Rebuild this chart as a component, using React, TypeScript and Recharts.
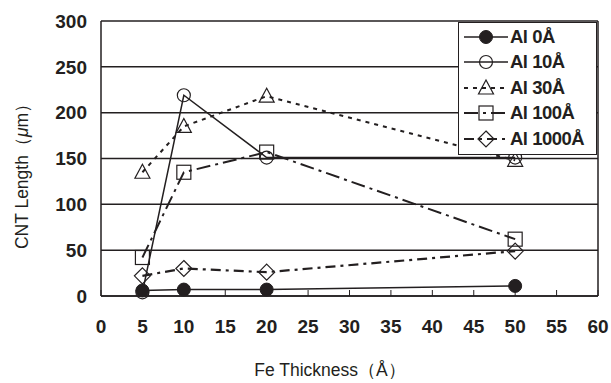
import {
  LineChart,
  Line,
  XAxis,
  YAxis,
  CartesianGrid,
  ReferenceLine,
  Label,
} from 'recharts'

const feThickness = [5, 10, 20, 50]
const al0 = [6, 7, 7, 11]
const al10 = [4, 219, 151, 151]
const al30 = [135, 185, 218, 148]
const al100 = [42, 135, 157, 62]
const al1000 = [22, 30, 26, 49]

const xTicks = [0, 5, 10, 15, 20, 25, 30, 35, 40, 45, 50, 55, 60]
const yTicks = [0, 50, 100, 150, 200, 250, 300]

const INK = '#231f20'
const FONT = '"Liberation Sans", Arial, sans-serif'

const chartData = feThickness.map((fe, i) => ({
  fe,
  al0: al0[i],
  al10: al10[i],
  al30: al30[i],
  al100: al100[i],
  al1000: al1000[i],
}))

type Shape = 'filled' | 'circle' | 'triangle' | 'square' | 'diamond'

function markerPath(shape: Shape, cx: number, cy: number, key?: string) {
  switch (shape) {
    case 'filled':
      return <circle key={key} cx={cx} cy={cy} r={6.5} fill={INK} stroke={INK} />
    case 'circle':
      return <circle key={key} cx={cx} cy={cy} r={6.5} fill="none" stroke={INK} strokeWidth={1.2} />
    case 'triangle':
      return (
        <polygon
          key={key}
          points={`${cx},${cy - 8} ${cx - 7.5},${cy + 6} ${cx + 7.5},${cy + 6}`}
          fill="none"
          stroke={INK}
          strokeWidth={1.2}
        />
      )
    case 'square':
      return (
        <rect key={key} x={cx - 7} y={cy - 7} width={14} height={14} fill="none" stroke={INK} strokeWidth={1.2} />
      )
    case 'diamond':
      return (
        <polygon
          key={key}
          points={`${cx},${cy - 8} ${cx + 8},${cy} ${cx},${cy + 8} ${cx - 8},${cy}`}
          fill="none"
          stroke={INK}
          strokeWidth={1.2}
        />
      )
  }
}

const dot = (shape: Shape) => (props: any) =>
  markerPath(shape, props.cx, props.cy, `${shape}-${props.index}`)

const SERIES = [
  { key: 'al0', name: 'Al 0Å', shape: 'filled' as Shape, dash: undefined, width: 1.5 },
  { key: 'al10', name: 'Al 10Å', shape: 'circle' as Shape, dash: undefined, width: 1.5 },
  { key: 'al30', name: 'Al 30Å', shape: 'triangle' as Shape, dash: '4 5', width: 2 },
  { key: 'al100', name: 'Al 100Å', shape: 'square' as Shape, dash: '14 5 3 5', width: 2 },
  { key: 'al1000', name: 'Al 1000Å', shape: 'diamond' as Shape, dash: '10 5 3 5', width: 2.2 },
]

// legend sits over the plot, lines pass behind it
function LegendBox() {
  return (
    <div
      style={{
        position: 'absolute',
        left: 458,
        top: 22,
        border: `1.5px solid ${INK}`,
        background: '#fff',
        width: 139,
        padding: '1px 0 2px 0',
        boxSizing: 'border-box',
      }}
    >
      {SERIES.map((s) => (
        <div key={s.key} style={{ display: 'flex', alignItems: 'center', height: 25.5 }}>
          <svg width={48} height={20} style={{ marginLeft: 3 }}>
            <line
              x1={2}
              y1={10}
              x2={46}
              y2={10}
              stroke={INK}
              strokeWidth={s.width}
              strokeDasharray={s.dash}
            />
            {markerPath(s.shape, 24, 10)}
          </svg>
          <span
            style={{
              fontFamily: FONT,
              fontWeight: 'bold',
              fontSize: 18.5,
              color: INK,
              letterSpacing: -0.5,
            }}
          >
            {s.name}
          </span>
        </div>
      ))}
    </div>
  )
}

export default function App() {
  return (
    <div style={{ position: 'absolute', left: 0, top: 0, width: 611, height: 383, background: '#fff' }}>
      <LineChart
        width={611}
        height={383}
        data={chartData}
        margin={{ top: 21, right: 13, bottom: 0, left: 0 }}
      >
        <CartesianGrid horizontal vertical={false} stroke={INK} strokeWidth={1.5} />
        <XAxis
          dataKey="fe"
          type="number"
          domain={[0, 60]}
          ticks={xTicks}
          height={87}
          axisLine={{ stroke: INK, strokeWidth: 1.5 }}
          tickLine={{ stroke: INK, strokeWidth: 1 }}
          tickSize={-6}
          tickMargin={30}
          tick={{ fill: INK, fontFamily: FONT, fontWeight: 'bold', fontSize: 19 }}
        >
          <Label
            content={() => (
              <text
                x={330}
                y={370}
                textAnchor="middle"
                dominantBaseline="central"
                fill={INK}
                fontFamily={FONT}
                fontSize={17.5}
              >
                Fe Thickness（Å）
              </text>
            )}
          />
        </XAxis>
        <YAxis
          type="number"
          domain={[0, 300]}
          ticks={yTicks}
          width={101}
          axisLine={{ stroke: INK, strokeWidth: 1.5 }}
          tickLine={false}
          tickSize={0}
          tickMargin={14}
          tick={{ fill: INK, fontFamily: FONT, fontWeight: 'bold', fontSize: 19 }}
        >
          <Label
            content={() => (
              <text
                x={22}
                y={172}
                transform="rotate(-90, 22, 172)"
                textAnchor="middle"
                dominantBaseline="central"
                fill={INK}
                fontFamily={FONT}
                fontSize={17.5}
              >
                CNT Length（<tspan fontStyle="italic">μ</tspan>m）
              </text>
            )}
          />
        </YAxis>
        <ReferenceLine x={60} stroke={INK} strokeWidth={1.5} />
        {SERIES.map((s) => (
          <Line
            key={s.key}
            dataKey={s.key}
            name={s.name}
            stroke={INK}
            strokeWidth={s.width}
            strokeDasharray={s.dash}
            dot={dot(s.shape)}
            activeDot={false}
            isAnimationActive={false}
          />
        ))}
      </LineChart>
      <LegendBox />
    </div>
  )
}
